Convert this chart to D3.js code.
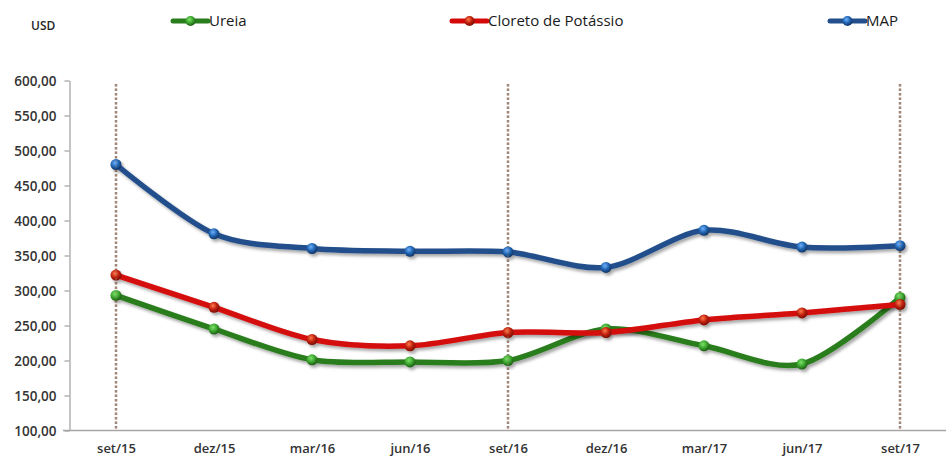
<!DOCTYPE html>
<html>
<head>
<meta charset="utf-8">
<script src="https://cdn.jsdelivr.net/npm/d3@7"></script>
<style>
  html, body { margin: 0; padding: 0; background: #fff; }
  svg { display: block; }
  text { font-family: "Open Sans", "Noto Sans", sans-serif; fill: #262626; }
</style>
</head>
<body>
<svg id="chart" width="947" height="458"></svg>
<script>
const categories = ["set/15","dez/15","mar/16","jun/16","set/16","dez/16","mar/17","jun/17","set/17"];
const ureia   = [293, 245, 201, 198, 200, 245, 221, 195, 290];
const cloreto = [322, 276, 230, 221, 240, 240, 258, 268, 280];
const map     = [480, 381, 360, 356, 355, 333, 386, 362, 364];
const seriesNames = ["Ureia", "Cloreto de Potássio", "MAP"];
const yTicks = [100,150,200,250,300,350,400,450,500,550,600];
const markedCategories = ["set/15","set/16","set/17"];

const colors = {
  "Ureia": {line: "#2a7d1c", dot: "#3aa62e", hi: "#7fe06a", edge: "#1e5c14"},
  "Cloreto de Potássio": {line: "#d40a0a", dot: "#c0200a", hi: "#ff7a50", edge: "#7a0e05"},
  "MAP": {line: "#234f8c", dot: "#1f64b0", hi: "#6fb0ff", edge: "#143464"}
};
const seriesData = [ureia, cloreto, map];

const svg = d3.select("#chart");

const x = d3.scalePoint().domain(categories).range([116, 900]);
const y = d3.scaleLinear().domain([100, 600]).range([430.5, 80.5]);

const defs = svg.append("defs");
const f = defs.append("filter").attr("id","shadow").attr("x","-10%").attr("y","-20%").attr("width","130%").attr("height","160%");
f.append("feDropShadow").attr("dx",2).attr("dy",2.5).attr("stdDeviation",1.6).attr("flood-color","#000").attr("flood-opacity",0.35);

seriesNames.forEach((n,i) => {
  const c = colors[n];
  const g = defs.append("radialGradient").attr("id","grad"+i).attr("cx","40%").attr("cy","35%").attr("r","65%");
  g.append("stop").attr("offset","0%").attr("stop-color",c.hi);
  g.append("stop").attr("offset","55%").attr("stop-color",c.dot);
  g.append("stop").attr("offset","100%").attr("stop-color",c.edge);
});

// Y axis
const yAxis = d3.axisLeft(y).tickValues(yTicks).tickSize(5).tickSizeOuter(0)
  .tickFormat(d => d3.format(".2f")(d).replace(".", ","));
const ya = svg.append("g").attr("transform", "translate(69.5,0)").call(yAxis);
ya.select(".domain").attr("stroke", "#a6a6a6").attr("stroke-width", 1.3);
ya.selectAll(".tick line").attr("stroke", "#a6a6a6").attr("stroke-width", 1.3);
ya.selectAll(".tick text").attr("x", -13).attr("dy","0.35em")
  .style("font-size","13.5px").style("font-weight","600").style("fill","#333");

// X axis
const xa = svg.append("g").attr("transform", "translate(0,430.5)")
  .call(d3.axisBottom(x).tickSize(0).tickSizeOuter(0));
xa.select(".domain").remove();
xa.append("line").attr("x1", 63).attr("x2", 946).attr("stroke", "#a6a6a6").attr("stroke-width", 1.5);
xa.selectAll(".tick text").attr("y", 13).attr("dy","0.71em")
  .style("font-size","13px").style("font-weight","600").style("fill","#333");

// Dotted vertical lines
svg.append("g").selectAll("line").data(markedCategories).join("line")
  .attr("x1", d => x(d)).attr("x2", d => x(d))
  .attr("y1", y(595)).attr("y2", y(103))
  .attr("stroke", "#a08677").attr("stroke-width", 2.5).attr("stroke-dasharray", "2.5,2");

// Lines
const line = d3.line().x((d,i) => x(categories[i])).y(d => y(d)).curve(d3.curveCardinal.tension(0.1));
seriesNames.forEach((n,i) => {
  const g = svg.append("g").attr("filter","url(#shadow)");
  g.append("path").datum(seriesData[i]).attr("d", line)
    .attr("fill","none").attr("stroke", colors[n].line).attr("stroke-width", 5.5).attr("stroke-linecap","round");
  g.selectAll("circle").data(seriesData[i]).join("circle")
    .attr("cx", (d,j) => x(categories[j])).attr("cy", d => y(d)).attr("r", 5.5)
    .attr("fill", "url(#grad"+i+")");
});

// Dotted lines faintly visible through markers
svg.append("g").selectAll("line").data(markedCategories).join("line")
  .attr("x1", d => x(d)).attr("x2", d => x(d))
  .attr("y1", y(595)).attr("y2", y(103))
  .attr("stroke", "#a08677").attr("stroke-width", 1.5).attr("stroke-dasharray", "2.5,2").attr("opacity", 0.4);

// Legend
svg.append("text").attr("x", 31).attr("y", 30).text("USD")
  .style("font-size","12px").style("font-weight","600").style("fill","#262626");
const legendX = [173, 452, 830];
seriesNames.forEach((n,i) => {
  const lg = svg.append("g").attr("transform", `translate(${legendX[i]},21)`);
  lg.append("line").attr("x1", 0).attr("x2", 35).attr("stroke", colors[n].line).attr("stroke-width", 5).attr("stroke-linecap","round");
  lg.append("circle").attr("cx", 17.5).attr("cy", 0).attr("r", 5).attr("fill", "url(#grad"+i+")");
  lg.append("text").attr("x", 36).attr("y", 0).attr("dy","0.35em").text(n)
    .style("font-size","15px").style("fill","#1a1a1a");
});
</script>
</body>
</html>
